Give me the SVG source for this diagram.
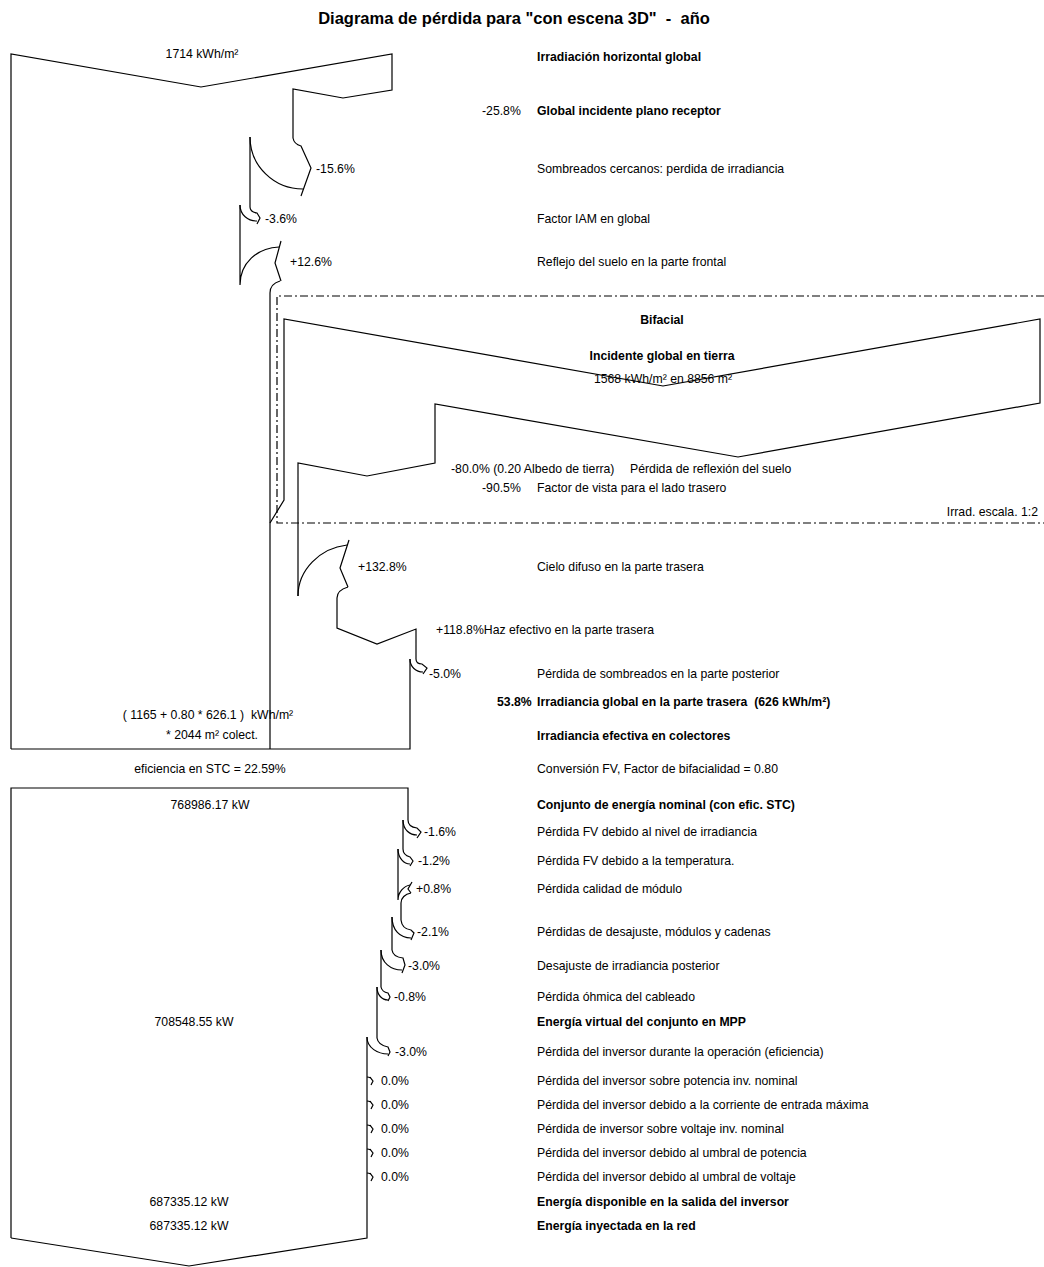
<svg xmlns="http://www.w3.org/2000/svg" width="1044" height="1267" viewBox="0 0 1044 1267">
<style>
.l{fill:none;stroke:#000;stroke-width:1.2;stroke-linejoin:miter}
.d{fill:none;stroke:#000;stroke-width:1.2;stroke-dasharray:8,3,2,3}
text{font-family:"Liberation Sans",Arial,sans-serif;font-size:12.25px;fill:#000;white-space:pre}
.b{font-weight:bold}
.c{text-anchor:middle}
.t{font-size:16.5px;font-weight:bold}
</style>
<rect width="1044" height="1267" fill="#fff"/>
<text class="t c" x="514" y="24">Diagrama de pérdida para "con escena 3D"  -  año</text>
<g id="connectors">
<path class="l" d="M11,749 L11,54 L201,87 L392,54 L392,90 L343,98 L293,89 L293,138"/>
<path class="l" d="M293,138 Q294,144 301,146 L311,168 L301,196"/>
<path class="l" d="M250,137 C250,166 274,189 303,189"/>
<path class="l" d="M250,137 L250,207 Q250,212 257,213 L260,218 L257,224"/>
<path class="l" d="M240,205 C240,215 248,221 257,221"/>
<path class="l" d="M240,205 L240,285 C240,263 257,248 279,247"/>
<path class="l" d="M281,241 L275,263 L281,281"/>
<path class="l" d="M280,281 C273,283 270,287 270,293 L270,749"/>
<path class="l" d="M270,523 L284,500 L284,319 L663,386 L1040,319 L1040,403 L738,457 L435,404 L435,463 L367,476 L298,463 L298,596"/>
<path class="l" d="M298,596 C298,570 320,548 347,545"/>
<path class="l" d="M349,540 L340,568 L348,587"/>
<path class="l" d="M348,587 C341,589 337,593 337,598 L337,628 L377,644 L416,629 L416,659"/>
<path class="l" d="M416,659 Q416,664 422,664 L427,668 L423,674"/>
<path class="l" d="M410,659 C410,667 416,672 423,672"/>
<path class="l" d="M410,659 L410,749 L11,749"/>
<path class="d" d="M1044,296 L277,296 L277,523 L1044,523"/>
<path class="l" d="M11,1238 L11,788 L408,788 L408,820"/>
<path class="l" d="M408,820 Q408,827 417,828 L421,832 L417,838"/>
<path class="l" d="M403,820 C403,830 410,835 417,835"/>
<path class="l" d="M403,820 L403,849 Q403,855 410,857 L413,861 L410,866"/>
<path class="l" d="M398,849 C398,858 404,864 410,864"/>
<path class="l" d="M398,849 L398,900 C398,892 404,886 410,885"/>
<path class="l" d="M412,882 L408,889 L411,893"/>
<path class="l" d="M411,893 C405,894 401,898 401,903 L401,920 Q402,929 411,930 L414,933 L411,940"/>
<path class="l" d="M392,917 C392,930 400,938 411,938"/>
<path class="l" d="M392,917 L392,950 Q393,957 403,958 L405,965 L402,973"/>
<path class="l" d="M381,950 C381,963 391,970 402,970"/>
<path class="l" d="M381,950 L381,987 Q382,992 388,993 L390,997 L388,1001"/>
<path class="l" d="M377,987 C377,995 382,1000 388,1000"/>
<path class="l" d="M377,987 L377,1038 Q378,1045 388,1047 L390,1052 L388,1056"/>
<path class="l" d="M367,1037 C367,1048 378,1054 388,1054"/>
<path class="l" d="M367,1037 L367,1238 L189,1266 L11,1238"/>
<path class="l" d="M367,1077 q4,0 5,3 M370,1077 l3,4 l-2,4"/>
<path class="l" d="M367,1101 q4,0 5,3 M370,1101 l3,4 l-2,4"/>
<path class="l" d="M367,1125 q4,0 5,3 M370,1125 l3,4 l-2,4"/>
<path class="l" d="M367,1149 q4,0 5,3 M370,1149 l3,4 l-2,4"/>
<path class="l" d="M367,1173 q4,0 5,3 M370,1173 l3,4 l-2,4"/>
</g>
<g id="n-irrad">
<text class="c" x="202" y="58">1714 kWh/m²</text>
<text class="b" x="537" y="61">Irradiación horizontal global</text>
</g>
<g id="n-global-incident">
<text x="482" y="115">-25.8%</text>
<text class="b" x="537" y="115">Global incidente plano receptor</text>
</g>
<g id="n-near-shadings">
<text x="316" y="173">-15.6%</text>
<text x="537" y="173">Sombreados cercanos: perdida de irradiancia</text>
</g>
<g id="n-iam">
<text x="265" y="223">-3.6%</text>
<text x="537" y="223">Factor IAM en global</text>
</g>
<g id="n-ground-front">
<text x="290" y="266">+12.6%</text>
<text x="537" y="266">Reflejo del suelo en la parte frontal</text>
</g>
<g id="n-bifacial">
<text class="b c" x="662" y="324">Bifacial</text>
<text class="b c" x="662" y="360">Incidente global en tierra</text>
<text class="c" x="663" y="383">1568 kWh/m² en 8856 m²</text>
<text x="451" y="473">-80.0% (0.20 Albedo de tierra)</text>
<text x="630" y="473">Pérdida de reflexión del suelo</text>
<text x="482" y="492">-90.5%</text>
<text x="537" y="492">Factor de vista para el lado trasero</text>
<text x="1038" y="516" text-anchor="end">Irrad. escala. 1:2</text>
</g>
<g id="n-sky-rear">
<text x="358" y="571">+132.8%</text>
<text x="537" y="571">Cielo difuso en la parte trasera</text>
</g>
<g id="n-beam-rear">
<text x="436" y="634">+118.8%Haz efectivo en la parte trasera</text>
</g>
<g id="n-shading-rear">
<text x="429" y="678">-5.0%</text>
<text x="537" y="678">Pérdida de sombreados en la parte posterior</text>
</g>
<g id="n-rear-global">
<text class="b" x="497" y="706">53.8%</text>
<text class="b" x="537" y="706">Irradiancia global en la parte trasera  (626 kWh/m²)</text>
</g>
<g id="n-effective">
<text class="c" x="208" y="719">( 1165 + 0.80 * 626.1 )  kWh/m²</text>
<text class="c" x="212" y="739">* 2044 m² colect.</text>
<text class="b" x="537" y="740">Irradiancia efectiva en colectores</text>
</g>
<g id="n-conversion">
<text class="c" x="210" y="773">eficiencia en STC = 22.59%</text>
<text x="537" y="773">Conversión FV, Factor de bifacialidad = 0.80</text>
</g>
<g id="n-nominal">
<text class="c" x="210" y="809">768986.17 kW</text>
<text class="b" x="537" y="809">Conjunto de energía nominal (con efic. STC)</text>
</g>
<g id="n-irr-level">
<text x="424" y="836">-1.6%</text>
<text x="537" y="836">Pérdida FV debido al nivel de irradiancia</text>
</g>
<g id="n-temp">
<text x="418" y="865">-1.2%</text>
<text x="537" y="865">Pérdida FV debido a la temperatura.</text>
</g>
<g id="n-quality">
<text x="416" y="893">+0.8%</text>
<text x="537" y="893">Pérdida calidad de módulo</text>
</g>
<g id="n-mismatch">
<text x="417" y="936">-2.1%</text>
<text x="537" y="936">Pérdidas de desajuste, módulos y cadenas</text>
</g>
<g id="n-rear-mismatch">
<text x="408" y="970">-3.0%</text>
<text x="537" y="970">Desajuste de irradiancia posterior</text>
</g>
<g id="n-ohmic">
<text x="394" y="1001">-0.8%</text>
<text x="537" y="1001">Pérdida óhmica del cableado</text>
</g>
<g id="n-mpp">
<text class="c" x="194" y="1026">708548.55 kW</text>
<text class="b" x="537" y="1026">Energía virtual del conjunto en MPP</text>
</g>
<g id="n-inv-eff">
<text x="395" y="1056">-3.0%</text>
<text x="537" y="1056">Pérdida del inversor durante la operación (eficiencia)</text>
</g>
<g id="n-inv-pnom">
<text x="381" y="1085">0.0%</text>
<text x="537" y="1085">Pérdida del inversor sobre potencia inv. nominal</text>
</g>
<g id="n-inv-imax">
<text x="381" y="1109">0.0%</text>
<text x="537" y="1109">Pérdida del inversor debido a la corriente de entrada máxima</text>
</g>
<g id="n-inv-vnom">
<text x="381" y="1133">0.0%</text>
<text x="537" y="1133">Pérdida de inversor sobre voltaje inv. nominal</text>
</g>
<g id="n-inv-pth">
<text x="381" y="1157">0.0%</text>
<text x="537" y="1157">Pérdida del inversor debido al umbral de potencia</text>
</g>
<g id="n-inv-vth">
<text x="381" y="1181">0.0%</text>
<text x="537" y="1181">Pérdida del inversor debido al umbral de voltaje</text>
</g>
<g id="n-inv-out">
<text class="c" x="189" y="1206">687335.12 kW</text>
<text class="b" x="537" y="1206">Energía disponible en la salida del inversor</text>
</g>
<g id="n-grid">
<text class="c" x="189" y="1230">687335.12 kW</text>
<text class="b" x="537" y="1230">Energía inyectada en la red</text>
</g>
</svg>
